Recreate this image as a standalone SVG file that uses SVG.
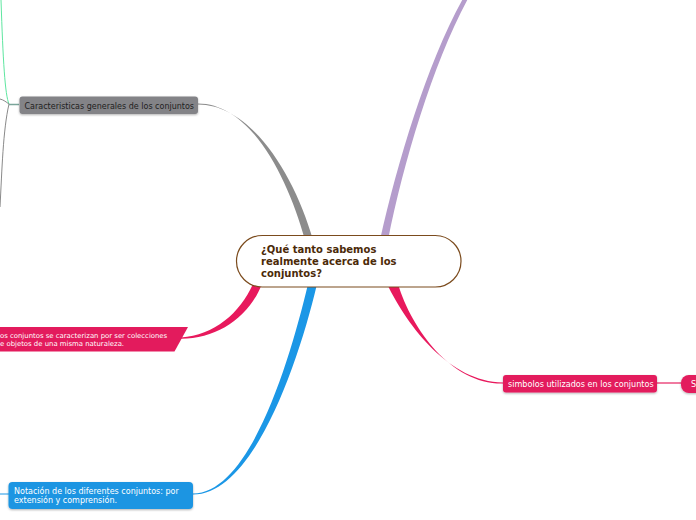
<svg xmlns="http://www.w3.org/2000/svg" width="696" height="520" viewBox="0 0 696 520">
<defs>
<style>
.t{font-family:"DejaVu Sans","Liberation Sans",sans-serif;}
.w{fill:#ffffff;}
.thin{fill:none;stroke-width:1;}
</style>
<filter id="sh" x="-10%" y="-30%" width="120%" height="160%">
<feDropShadow dx="0" dy="1" stdDeviation="0.8" flood-color="#000" flood-opacity="0.3"/>
</filter>
</defs>
<rect width="696" height="520" fill="#ffffff"/>
<g id="connectors">
<path d="M198,103.4 C250,103.4 287,175 305,240 L313,240 C294,174 251,104.6 198,104.6 Z" fill="#8c8c8c"/>
<path d="M465,-5 C428,60 398,160 380,240 L388,240 C404,160 434,60 470,-5 Z" fill="#b59dcc"/>
<path d="M181,337.4 C214,335.5 240,313 253,284 L262,284 C249,317 218,338.8 181,338.8 Z" fill="#e8195d"/>
<path d="M387,284 C408,327 450,382 503,382.4 L503,383.6 C452,384.5 412,330 398,284 Z" fill="#e8195d"/>
<path d="M308,284 C290,360 250,493.4 193,493.4 L193,494.6 C253,494.6 298,365 317,284 Z" fill="#1b97e6"/>
<path d="M657,383 L681,383" stroke="#f07aa0" stroke-width="2" fill="none"/>
<path class="thin" d="M1,0 C3,60 5,95 9,104" stroke="#5ee6a0"/>
<path class="thin" d="M0,99 C4,100 6,102 9,104" stroke="#8a8a8a"/>
<path class="thin" d="M9,104 C3,130 2,170 0,207" stroke="#8a8a8a"/>
<path d="M9,104.5 L19,104.5" stroke="#7aa59a" stroke-width="1.5" fill="none"/>
<path class="thin" d="M0,494 L9,494" stroke="#1b97e6"/>
</g>
<g id="central">
<rect x="236.5" y="235.5" width="224.5" height="51.5" rx="25.75" ry="25.75" fill="#ffffff" stroke="#7b4b1d" stroke-width="1.2"/>
<text class="t" font-size="10" font-weight="bold" fill="#4b2a08"><tspan x="261" y="252.5">¿Qué tanto sabemos</tspan><tspan x="261" y="264.5">realmente acerca de los</tspan><tspan x="261" y="276.5">conjuntos?</tspan></text>
</g>
<g id="caracteristicas">
<rect x="19.5" y="96.5" width="178.5" height="17.5" rx="3" fill="#838387" filter="url(#sh)"/>
<text class="t" x="24.5" y="108.5" font-size="8" fill="#1e1e1e">Caracteristicas generales de los conjuntos</text>
</g>
<g id="definicion">
<polygon points="-2,327 188,327 174.5,351.5 -2,351.5" fill="#e31b5d"/>
<text class="t w" font-size="6.9"><tspan x="0" y="337.5">os conjuntos se caracterizan por ser colecciones</tspan><tspan x="0" y="346">e objetos de una misma naturaleza.</tspan></text>
</g>
<g id="notacion">
<rect x="8.5" y="482" width="184.5" height="27" rx="4" fill="#1b95e2" filter="url(#sh)"/>
<text class="t w" font-size="8"><tspan x="14" y="494">Notación de los diferentes conjuntos: por</tspan><tspan x="14" y="503">extensión y comprensión.</tspan></text>
</g>
<g id="simbolos">
<rect x="503" y="375" width="154" height="17.5" rx="3" fill="#e31b5d" filter="url(#sh)"/>
<text class="t w" x="508" y="387" font-size="8.1">simbolos utilizados en los conjuntos</text>
</g>
<g id="simbolos-sub">
<rect x="681" y="375" width="30" height="18" rx="8" fill="#e31b5d" filter="url(#sh)"/>
<text class="t w" x="691" y="387" font-size="8.1">S</text>
</g>
</svg>
